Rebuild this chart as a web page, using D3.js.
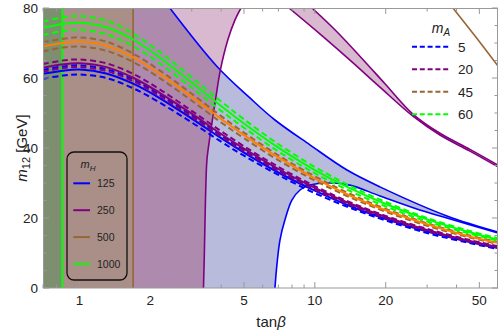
<!DOCTYPE html>
<html>
<head>
<meta charset="utf-8">
<script src="https://d3js.org/d3.v7.min.js"></script>
<style>
body { margin: 0; background: #fff; }
text { font-family: "Liberation Sans", Arial, sans-serif; fill: #222; }
</style>
</head>
<body>
<div id="chart"></div>
<script>
// tan(beta) samples of the m_A bands
var tanB = [0.7, 0.85, 1, 1.3, 1.7, 2.2, 3, 4, 5, 7, 10, 14, 20, 30, 45, 60];

// m_A = 5 (blue)
var blueHi  = [62.3, 63.3, 63.6, 62.5, 59.5, 55.2, 49.3, 43.6, 39.4, 33.7, 28.3, 24.0, 20.1, 16.4, 13.4, 11.6];
var blueMid = [61.2, 62.1, 62.4, 61.3, 58.3, 54.2, 48.4, 42.8, 38.7, 33.0, 27.8, 23.5, 19.7, 16.1, 13.2, 11.4];
var blueLo  = [59.8, 60.7, 61.0, 60.0, 57.0, 52.9, 47.3, 41.8, 37.8, 32.3, 27.1, 23.0, 19.3, 15.7, 12.9, 11.1];
// m_A = 20 (purple)
var purpHi  = [64.0, 65.0, 65.3, 64.2, 61.1, 56.7, 50.6, 44.8, 40.5, 34.6, 29.1, 24.6, 20.6, 16.9, 13.8, 11.9];
var purpMid = [62.9, 63.9, 64.2, 63.1, 60.0, 55.7, 49.8, 44.0, 39.8, 34.0, 28.6, 24.2, 20.3, 16.6, 13.5, 11.7];
var purpLo  = [61.8, 62.8, 63.1, 62.0, 59.0, 54.8, 48.9, 43.3, 39.1, 33.4, 28.1, 23.8, 19.9, 16.3, 13.3, 11.5];
// m_A = 45 (brown dashed, orange solid)
var brownHi = [70.2, 71.2, 71.6, 70.4, 66.9, 62.1, 55.5, 49.1, 44.4, 37.9, 31.9, 27.0, 22.6, 18.5, 15.1, 13.1];
var brownMid= [69.0, 70.0, 70.4, 69.2, 65.8, 61.1, 54.6, 48.3, 43.7, 37.3, 31.3, 26.5, 22.2, 18.2, 14.8, 12.9];
var brownLo = [67.6, 68.7, 69.0, 67.8, 64.5, 59.9, 53.5, 47.3, 42.8, 36.5, 30.7, 26.0, 21.8, 17.8, 14.5, 12.6];
// m_A = 60 (green)
var greenHi = [76.1, 77.3, 77.7, 76.4, 72.6, 67.4, 60.2, 53.3, 48.2, 41.1, 34.6, 29.3, 24.6, 20.0, 16.4, 14.2];
var greenMid= [74.3, 75.4, 75.8, 74.5, 70.9, 65.8, 58.7, 52.0, 47.0, 40.1, 33.7, 28.6, 24.0, 19.6, 16.0, 13.8];
var greenLo = [72.3, 73.4, 73.8, 72.5, 69.0, 64.1, 57.2, 50.6, 45.8, 39.0, 32.8, 27.8, 23.3, 19.0, 15.6, 13.5];

// m_H = 125 region borders (upper and lower blue curves)
var uT = [2.42, 3.84, 5.30, 6.77, 9.53, 13.7, 18.9, 36.4, 60];
var uM = [80, 63.3, 54.3, 48.0, 40.9, 33.7, 28.9, 20.6, 16.0];
var lT = [6.77, 6.90, 7.11, 7.46, 7.99, 8.65, 9.53, 11.6, 14.1, 18.9, 27.9, 36.4, 60];
var lM = [0, 6.6, 13.7, 19.4, 25.1, 28.0, 29.4, 30.0, 29.4, 26.3, 22.3, 20.0, 15.7];
// m_H = 250 borders (purple)
var p1T = [3.364, 3.396, 3.43, 3.48, 3.567, 3.67, 3.782, 3.97, 4.27, 4.58, 4.855];
var p1M = [0, 10.9, 25.1, 36.6, 42.3, 48.0, 53.7, 62.3, 70.9, 76.6, 80];
var paT = [7.76, 10.5, 14.1, 18.9, 26.1, 34.0, 45.6, 60];
var paM = [80, 72.6, 65.1, 57.4, 49.1, 43.7, 39.1, 34.6];
var pbT = [9.72, 12.2, 15.5, 19.9, 26.1, 34.0, 45.6, 60];
var pbM = [80, 73.7, 66.3, 58.3, 49.7, 44.2, 39.6, 35.1];
// m_H = 500 border (brown) and vertical limits
var brT = [38.6, 48.3, 60];
var brM = [80, 71.7, 63.4];
var brownCut = 1.69;
var greenCut = 0.845;

var mALabels = ["5", "20", "45", "60"];
var mHLabels = ["125", "250", "500", "1000"];
var xTicks = [1, 2, 5, 10, 20, 50];
var yTicks = [0, 20, 40, 60, 80];

var W = 498, H = 336;
var x = d3.scaleLog().domain([0.7, 60]).range([43, 498]);
var y = d3.scaleLinear().domain([0, 80]).range([288, 8]);

var cBlue = "#0000ff", cPurple = "#800080", cBrown = "#996633",
    cGreen = "#00ff00", cOrange = "#ff8000";

var svg = d3.select("#chart").append("svg").attr("width", W).attr("height", H);

function pts(ts, ms) { return ts.map(function(t, i) { return [t, ms[i]]; }); }
var line = d3.line().x(function(d) { return x(d[0]); }).y(function(d) { return y(d[1]); })
  .curve(d3.curveCatmullRom.alpha(0.5));
function tail(s) { return "L" + s.slice(1); }
function P(t, m) { return x(t) + "," + y(m); }

var U = pts(uT, uM), L = pts(lT, lM), P1 = pts(p1T, p1M),
    PA = pts(paT, paM), PB = pts(pbT, pbM), BR = pts(brT, brM);

var blueRegion = "M" + P(0.7, 0) + "L" + P(0.7, 80) + tail(line(U)) +
                 tail(line(L.slice().reverse())) + "Z";
var purpRegion = "M" + P(0.7, 0) + "L" + P(0.7, 80) + tail(line(P1.slice().reverse())) + "Z";
var wedge = line(PA) + tail(line(PB.slice().reverse())) + "Z";

var defs = svg.append("defs");
defs.append("clipPath").attr("id", "plotClip").append("rect")
  .attr("x", 43).attr("y", 8).attr("width", 455).attr("height", 280);
defs.append("clipPath").attr("id", "blueClip").append("path").attr("d", blueRegion);

var g = svg.append("g").attr("clip-path", "url(#plotClip)");

g.append("path").attr("d", blueRegion).attr("fill", "#b9bbdc");
g.append("path").attr("d", purpRegion).attr("fill", "#d9b9cf");
g.append("path").attr("d", wedge).attr("fill", "#d9b9cf");
g.append("path").attr("d", purpRegion).attr("fill", "#ae8aae").attr("clip-path", "url(#blueClip)");
g.append("rect").attr("x", x(0.7)).attr("y", 8).attr("width", x(brownCut) - x(0.7)).attr("height", 280)
  .attr("fill", "#a98f88");
g.append("rect").attr("x", x(0.7)).attr("y", 8).attr("width", x(greenCut) - x(0.7)).attr("height", 280)
  .attr("fill", "#7e8e70");

// region borders
[[U, cBlue], [L, cBlue], [P1, cPurple], [PA, cPurple], [PB, cPurple], [BR, cBrown]].forEach(function(c) {
  g.append("path").attr("d", line(c[0])).attr("fill", "none")
    .attr("stroke", c[1]).attr("stroke-width", 1.6);
});
g.append("line").attr("x1", x(brownCut)).attr("x2", x(brownCut)).attr("y1", 8).attr("y2", 288)
  .attr("stroke", cBrown).attr("stroke-width", 1.6);
g.append("line").attr("x1", x(greenCut)).attr("x2", x(greenCut)).attr("y1", 8).attr("y2", 288)
  .attr("stroke", cGreen).attr("stroke-width", 2);

// m_A bands
var groups = [
  [blueHi, blueMid, blueLo, cBlue, cBlue],
  [purpHi, purpMid, purpLo, cPurple, cPurple],
  [brownHi, brownMid, brownLo, cBrown, cOrange],
  [greenHi, greenMid, greenLo, cGreen, cGreen]
];
groups.forEach(function(gr) {
  [gr[0], gr[2]].forEach(function(v) {
    g.append("path").attr("d", line(pts(tanB, v))).attr("fill", "none")
      .attr("stroke", gr[3]).attr("stroke-width", 2).attr("stroke-dasharray", "6,3.5");
  });
  g.append("path").attr("d", line(pts(tanB, gr[1]))).attr("fill", "none")
    .attr("stroke", gr[4]).attr("stroke-width", 2);
});

// frame and ticks
var frame = svg.append("g").attr("stroke", "#999").attr("stroke-width", 1);
frame.append("rect").attr("x", 43.5).attr("y", 8.5).attr("width", 454).attr("height", 279.5).attr("fill", "none");

var minorX = [];
[0.1, 1, 10].forEach(function(d) {
  for (var k = 1; k < 10; k++) {
    var v = +(k * d).toFixed(3);
    if (v >= 0.7 && v <= 60 && xTicks.indexOf(v) < 0) minorX.push(v);
  }
});
var minorY = d3.range(0, 81, 5).filter(function(v) { return v % 20 != 0; });

function xt(v, len) {
  frame.append("line").attr("x1", x(v)).attr("x2", x(v)).attr("y1", 288).attr("y2", 288 - len);
  frame.append("line").attr("x1", x(v)).attr("x2", x(v)).attr("y1", 8).attr("y2", 8 + len);
}
function yt(v, len) {
  frame.append("line").attr("x1", 43).attr("x2", 43 + len).attr("y1", y(v)).attr("y2", y(v));
  frame.append("line").attr("x1", 498).attr("x2", 498 - len).attr("y1", y(v)).attr("y2", y(v));
}
xTicks.forEach(function(v) { xt(v, 6); });
minorX.forEach(function(v) { xt(v, 3.5); });
yTicks.forEach(function(v) { yt(v, 6); });
minorY.forEach(function(v) { yt(v, 3.5); });

svg.selectAll(".xl").data(xTicks).enter().append("text")
  .attr("x", function(d) { return x(d); }).attr("y", 305).attr("text-anchor", "middle")
  .attr("font-size", 13.5).text(function(d) { return d; });
svg.selectAll(".yl").data(yTicks).enter().append("text")
  .attr("x", 38).attr("y", function(d) { return y(d) + 5; }).attr("text-anchor", "end")
  .attr("font-size", 13.5).text(function(d) { return d; });

// axis labels
var xl = svg.append("text").attr("x", 271).attr("y", 327).attr("text-anchor", "middle").attr("font-size", 15);
xl.append("tspan").text("tan");
xl.append("tspan").attr("font-style", "italic").text("β");
var yl = svg.append("text").attr("transform", "translate(27,148) rotate(-90)")
  .attr("text-anchor", "middle").attr("font-size", 15);
yl.append("tspan").attr("font-style", "italic").text("m");
yl.append("tspan").attr("font-size", 11).attr("dy", 3).text("12");
yl.append("tspan").attr("dy", -3).text(" [GeV]");

// m_A legend
var la = svg.append("text").attr("x", 441).attr("y", 33).attr("text-anchor", "middle").attr("font-size", 14);
la.append("tspan").attr("font-style", "italic").text("m");
la.append("tspan").attr("font-size", 10).attr("dy", 3).attr("font-style", "italic").text("A");
var aCols = [cBlue, cPurple, cBrown, cGreen];
mALabels.forEach(function(s, i) {
  var yy = 46.7 + i * 22.5;
  svg.append("line").attr("x1", 412).attr("x2", 450).attr("y1", yy).attr("y2", yy)
    .attr("stroke", aCols[i]).attr("stroke-width", 2).attr("stroke-dasharray", "5,2.8");
  svg.append("text").attr("x", 458).attr("y", yy + 5).attr("font-size", 13.5).text(s);
});

// m_H legend
svg.append("rect").attr("x", 67).attr("y", 152).attr("width", 60).attr("height", 128)
  .attr("rx", 7).attr("fill", "none").attr("stroke", "#111").attr("stroke-width", 1.3);
var lh = svg.append("text").attr("x", 88).attr("y", 168).attr("text-anchor", "middle").attr("font-size", 11);
lh.append("tspan").attr("font-style", "italic").text("m");
lh.append("tspan").attr("font-size", 8).attr("dy", 2.5).attr("font-style", "italic").text("H");
var hCols = [cBlue, cPurple, cBrown, cGreen];
mHLabels.forEach(function(s, i) {
  var yy = 183.3 + i * 26.9;
  svg.append("line").attr("x1", 73.3).attr("x2", 90).attr("y1", yy).attr("y2", yy)
    .attr("stroke", hCols[i]).attr("stroke-width", 2);
  svg.append("text").attr("x", 97).attr("y", yy + 4).attr("font-size", 10.5).text(s);
});
</script>
</body>
</html>
